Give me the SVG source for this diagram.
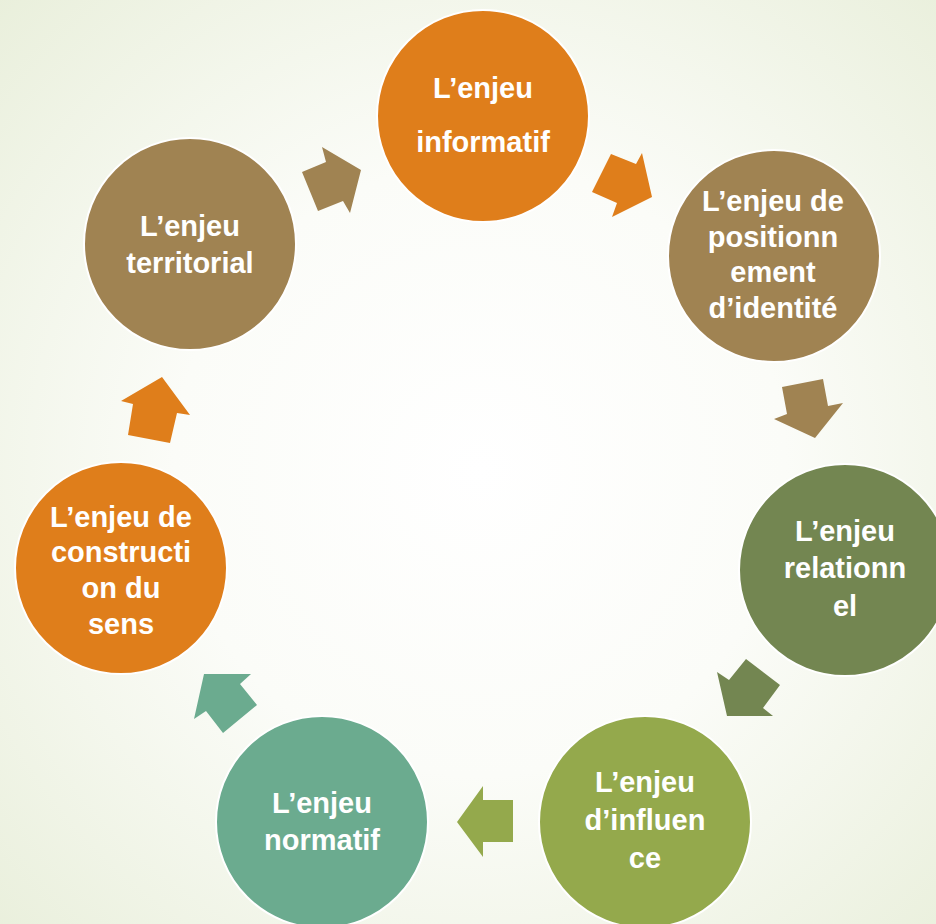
<svg xmlns="http://www.w3.org/2000/svg" width="936" height="924" viewBox="0 0 936 924">
<defs>
<radialGradient id="bg" cx="480" cy="470" r="680" gradientUnits="userSpaceOnUse">
<stop offset="0" stop-color="#ffffff"/>
<stop offset="0.45" stop-color="#fbfcf8"/>
<stop offset="1" stop-color="#e9efdb"/>
</radialGradient>
<style>
.c{stroke:#ffffff;stroke-width:2}
.t{font-family:"Liberation Sans",Arial,sans-serif;font-weight:bold;font-size:29px;fill:#ffffff;text-anchor:middle}
.or{fill:#DF7E1B}.br{fill:#A08352}.dg{fill:#738651}.og{fill:#94A94C}.tl{fill:#6BAB8F}
</style>
</defs>
<rect width="936" height="924" fill="url(#bg)"/>
<g id="connectors">
<polygon class="br" points="302,172 326,162 322,147 361,170 350,213 343,201 318,211"/>
<polygon class="or" points="611,154 636,164 642,153 652,197 612,217 617,203 592,192"/>
<polygon class="br" points="782,387 823,379 828,406 843,403 815,438 774,419 787,414"/>
<polygon class="dg" points="746,659 780,685 763,708 773,716 727,716 717,672 729,680"/>
<polygon class="og" points="483,786 483,800 513,800 513,842 483,842 483,857 457,822"/>
<polygon class="tl" points="204,674 251,674 240,684 257,705 223,733 206,711 194,719"/>
<polygon class="or" points="162,377 190,415 177,413 170,443 128,435 133,404 121,401"/>
</g>
<g id="n-informatif">
<circle class="c or" cx="483" cy="116" r="106"/>
<text class="t" x="483" y="98">L’enjeu</text>
<text class="t" x="483" y="152">informatif</text>
</g>
<g id="n-positionnement">
<circle class="c br" cx="774" cy="256" r="106"/>
<text class="t" x="773" y="211">L’enjeu de</text>
<text class="t" x="773" y="247">positionn</text>
<text class="t" x="773" y="282">ement</text>
<text class="t" x="773" y="318">d’identité</text>
</g>
<g id="n-relationnel">
<circle class="c dg" cx="845" cy="570" r="106"/>
<text class="t" x="845" y="541">L’enjeu</text>
<text class="t" x="845" y="578">relationn</text>
<text class="t" x="845" y="616">el</text>
</g>
<g id="n-influence">
<circle class="c og" cx="645" cy="822" r="106"/>
<text class="t" x="645" y="792">L’enjeu</text>
<text class="t" x="645" y="830">d’influen</text>
<text class="t" x="645" y="868">ce</text>
</g>
<g id="n-normatif">
<circle class="c tl" cx="322" cy="822" r="106"/>
<text class="t" x="322" y="813">L’enjeu</text>
<text class="t" x="322" y="850">normatif</text>
</g>
<g id="n-construction">
<circle class="c or" cx="121" cy="568" r="106"/>
<text class="t" x="121" y="527">L’enjeu de</text>
<text class="t" x="121" y="562">constructi</text>
<text class="t" x="121" y="598">on du</text>
<text class="t" x="121" y="634">sens</text>
</g>
<g id="n-territorial">
<circle class="c br" cx="190" cy="244" r="106"/>
<text class="t" x="190" y="236">L’enjeu</text>
<text class="t" x="190" y="273">territorial</text>
</g>
</svg>
